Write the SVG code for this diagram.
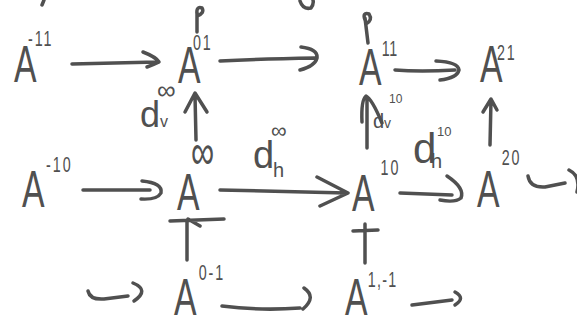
<svg xmlns="http://www.w3.org/2000/svg" width="577" height="327" viewBox="0 0 577 327">
<style>
text{font-family:"Liberation Sans",Arial,sans-serif;fill:#505050}
.A{font-size:52px}
.s{font-size:22px;letter-spacing:3px}
.c{fill:none;stroke:#505050;stroke-width:3.5;stroke-linecap:round;stroke-linejoin:round}
</style>
<rect width="577" height="327" fill="#ffffff"/>
<g id="n-A-11"><text transform="translate(14,82) scale(0.65,1)"><tspan class="A">A</tspan><tspan class="s" x="21.5" y="-36">-11</tspan></text></g>
<g id="n-A01"><text transform="translate(178,83) scale(0.65,1)"><tspan class="A">A</tspan><tspan class="s" x="23" y="-33">01</tspan></text></g>
<g id="n-A11"><text transform="translate(359,85) scale(0.65,1)"><tspan class="A">A</tspan><tspan class="s" x="35" y="-29" style="letter-spacing:1px">11</tspan></text></g>
<g id="n-A21"><text transform="translate(480,82) scale(0.65,1)"><tspan class="A">A</tspan><tspan class="s" x="26" y="-22" font-size="19">21</tspan></text></g>
<g id="n-A-10"><text transform="translate(22,207) scale(0.65,1)"><tspan class="A">A</tspan><tspan class="s" x="37" y="-35">-10</tspan></text></g>
<g id="n-Ainf"><text transform="translate(177,210) scale(0.65,1)"><tspan class="A">A</tspan><tspan x="21.5" y="-41" font-size="50">∞</tspan></text></g>
<g id="n-A10"><text transform="translate(352,211) scale(0.65,1)"><tspan class="A">A</tspan><tspan class="s" x="44" y="-36" font-size="20">10</tspan></text></g>
<g id="n-A20"><text transform="translate(477,207) scale(0.65,1)"><tspan class="A">A</tspan><tspan class="s" x="38" y="-42">20</tspan></text></g>
<g id="n-A0-1"><text transform="translate(174,315) scale(0.65,1)"><tspan class="A" font-size="50">A</tspan><tspan class="s" x="38" y="-35">0-1</tspan></text></g>
<g id="n-A1-1"><text transform="translate(345,315) scale(0.65,1)"><tspan class="A" font-size="50">A</tspan><tspan class="s" x="35" y="-28" style="letter-spacing:2px">1,-1</tspan></text></g>
<g id="labels">
<text id="l-dvinf"><tspan x="140" y="127" font-size="36">d</tspan><tspan x="160" y="127" font-size="16">v</tspan><tspan x="157" y="99" font-size="26">∞</tspan></text>
<text id="l-dv10"><tspan x="373" y="128" font-size="20">d</tspan><tspan x="384" y="128" font-size="14">v</tspan><tspan x="389" y="103" font-size="12">10</tspan></text>
<text id="l-dhinf"><tspan x="253" y="168" font-size="38">d</tspan><tspan x="273" y="177" font-size="20">h</tspan><tspan x="271" y="138" font-size="22">∞</tspan></text>
<text id="l-dh10"><tspan x="413" y="163" font-size="42">d</tspan><tspan x="431" y="168" font-size="20">h</tspan><tspan x="437" y="136" font-size="13">10</tspan></text>
</g>
<g id="connectors" class="c">
<path d="M72 64 L157 62 M143 52 Q156 57 159 62 Q153 65 147 67"/>
<path d="M220 61 Q260 59 315 58 M301 47 Q318 49 317 58 Q315 66 300 70"/>
<path d="M395 70 Q420 72 455 70 M436 61 Q458 62 459 70 Q457 78 440 80"/>
<path d="M83 190 L150 190 M142 181 Q163 183 161 193 Q157 200 141 199"/>
<path d="M220 190 L346 193 M317 177 L348 193 L320 206"/>
<path d="M400 193 L452 195 M447 176 Q465 188 461 198 Q455 203 440 200"/>
<path d="M528 176 Q530 188 545 187 L565 183 M569 170 Q581 176 577 192"/>
<path d="M197 32 L197 12 M197 14 Q196 6 202 8 Q205 13 197 16"/>
<path d="M368 43 L365 18 M365 20 Q362 12 369 14 Q373 20 366 24"/>
<path d="M196 140 L195 95 M185 112 L195 93 L207 112"/>
<path d="M367 148 L367 98 M362 122 Q361 100 366 96 Q372 99 382 123"/>
<path d="M490 145 L491 100 M483 112 L491 99 L497 110"/>
<path d="M187 260 L187 220 M170 221 L224 219 M188 219 L200 226"/>
<path d="M365 263 L365 224 M353 231 L378 230"/>
<path d="M88 291 Q90 300 104 299 L128 296 M133 283 Q150 290 134 301"/>
<path d="M222 306 Q260 311 300 308 M304 288 Q317 297 303 309"/>
<path d="M412 305 L452 300 M455 292 Q466 298 455 305"/>
<path d="M44 0 L42 5 M300 1 Q303 10 311 8 Q314 4 313 0"/>
</g>
</svg>
